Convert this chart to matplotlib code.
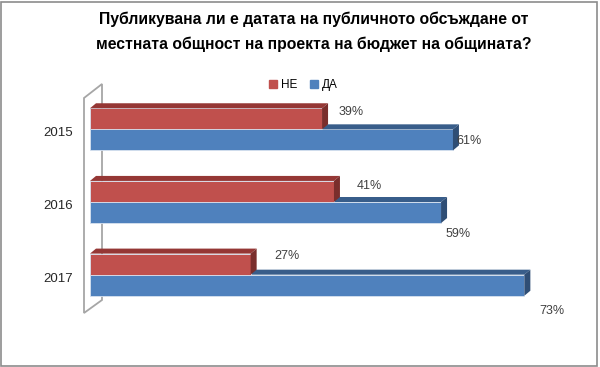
import matplotlib
matplotlib.use('Agg')
import matplotlib.pyplot as plt
from matplotlib.patches import Polygon, Rectangle
from matplotlib.lines import Line2D

years = ['2015', '2016', '2017']
ne = [0.39, 0.41, 0.27]
da = [0.61, 0.59, 0.73]
title = 'Публикувана ли е датата на публичното обсъждане от\nместната общност на проекта на бюджет на общината?'

# label offsets in pixels (dx, dy down) - the Excel 3D layout places them unevenly
ne_off = [(29, -7), (35, -5), (36, -8)]
da_off = [(16, 1), (17, 21), (28, 26)]

plt.rcParams['font.family'] = ['Liberation Sans', 'DejaVu Sans']

W, H = 600, 367
fig = plt.figure(figsize=(W / 100, H / 100), dpi=100)
top_px, bot_px = 93, 311
ax = fig.add_axes([90 / W, (H - bot_px) / H, 476 / W, (bot_px - top_px) / H])
ax.set_xlim(0, 0.8)
ax.set_ylim(2.5, -0.5)
ax.axis('off')

px_x = 0.8 / 476
px_y = 3.0 / (bot_px - top_px)
dx = 6 * px_x
dy = 5 * px_y
bh = 0.29

red = ('#C0504D', '#953735', '#7A2E2C')
blue = ('#4F81BD', '#385D8A', '#2F4E75')


def bar3d(y0, v, cols):
    # front face
    ax.barh(y0, v, height=bh, color=cols[0], edgecolor='#D8E2F0', linewidth=0.6, zorder=3)
    yt, yb = y0 - bh / 2, y0 + bh / 2
    ax.add_patch(Polygon([(0, yt), (v, yt), (v + dx, yt - dy), (dx, yt - dy)],
                         closed=True, facecolor=cols[1], edgecolor='none', zorder=3))
    ax.add_patch(Polygon([(v, yt), (v + dx, yt - dy), (v + dx, yb - dy), (v, yb)],
                         closed=True, facecolor=cols[2], edgecolor='none', zorder=3))


for i in range(len(years)):
    bar3d(i + bh / 2, da[i], blue)
    bar3d(i - bh / 2, ne[i], red)

for i in range(len(years)):
    ax.annotate(f'{ne[i]:.0%}', xy=(ne[i], i - bh / 2), xytext=(ne_off[i][0] * 0.72, -ne_off[i][1] * 0.72),
                textcoords='offset points', ha='center', va='center', fontsize=9, color='#404040')
    ax.annotate(f'{da[i]:.0%}', xy=(da[i], i + bh / 2), xytext=(da_off[i][0] * 0.72, -da_off[i][1] * 0.72),
                textcoords='offset points', ha='center', va='center', fontsize=9, color='#404040')

# year labels
for i, yr in enumerate(years):
    ax.annotate(yr, xy=(0, i), xytext=(-17 * 0.72, -4 * 0.72), textcoords='offset points',
                ha='right', va='center', fontsize=9.5, color='#262626')


# left wall (pixel coordinates), behind the bars
def fig_pt(x, y):
    return (x / W, 1 - y / H)


wall = [fig_pt(84, 98), fig_pt(102, 84), fig_pt(102, 300), fig_pt(84, 313)]
ax.add_patch(Polygon(wall, closed=True, transform=fig.transFigure, facecolor='none',
                     edgecolor='#A6A6A6', linewidth=1.3, zorder=1, clip_on=False))

# legend
handles = [Line2D([], [], marker='s', linestyle='none', markersize=5.5, color=red[0]),
           Line2D([], [], marker='s', linestyle='none', markersize=5.5, color=blue[0])]
fig.legend(handles, ['НЕ', 'ДА'], loc='center', bbox_to_anchor=(303 / W, 1 - 85 / H),
           ncol=2, frameon=False, fontsize=8.5, handletextpad=0.3, columnspacing=1.0,
           handlelength=0.8, borderpad=0)

fig.text(314 / W, 1 - 31.5 / H, title, ha='center', va='center', fontsize=11.3,
         fontweight='bold', linespacing=1.75, color='#000000')

fig.add_artist(Rectangle((0.5 / W, 1.5 / H), 596.5 / W, 364 / H, transform=fig.transFigure,
                         facecolor='none', edgecolor='#8C8C8C', linewidth=1.2))

fig.savefig('out.png', dpi=100)
